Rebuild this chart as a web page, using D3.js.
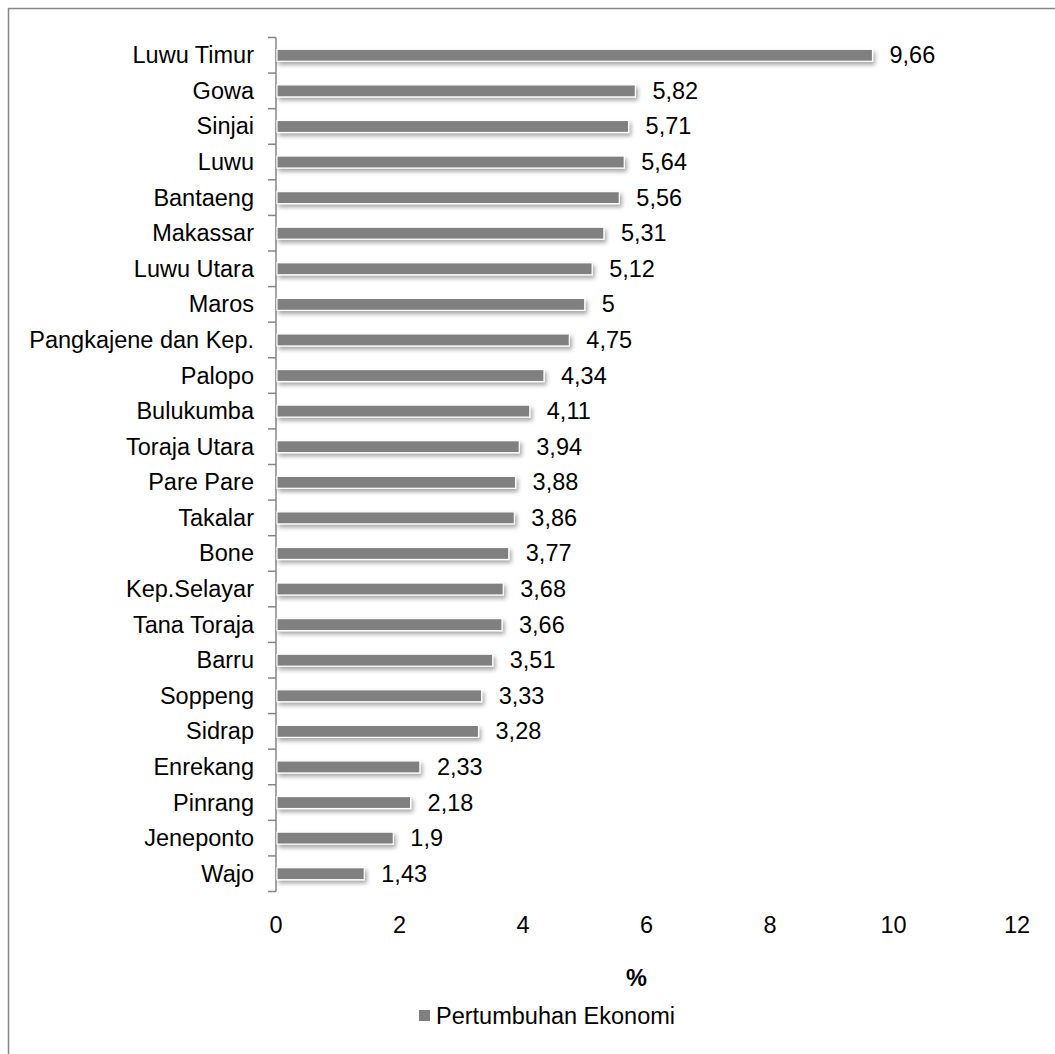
<!DOCTYPE html>
<html>
<head>
<meta charset="utf-8">
<script src="https://cdn.jsdelivr.net/npm/d3@7"></script>
<style>
  html, body { margin: 0; padding: 0; background: #fff; }
  svg { display: block; }
  text { font-family: "Liberation Sans", Arial, sans-serif; fill: #000; }
</style>
</head>
<body>
<svg id="chart" width="1055" height="1054"></svg>
<script>
// Regional economic growth (%), top to bottom
const regions = ["Luwu Timur", "Gowa", "Sinjai", "Luwu", "Bantaeng", "Makassar", "Luwu Utara",
  "Maros", "Pangkajene dan Kep.", "Palopo", "Bulukumba", "Toraja Utara", "Pare Pare", "Takalar",
  "Bone", "Kep.Selayar", "Tana Toraja", "Barru", "Soppeng", "Sidrap", "Enrekang", "Pinrang",
  "Jeneponto", "Wajo"];
const growth = [9.66, 5.82, 5.71, 5.64, 5.56, 5.31, 5.12, 5, 4.75, 4.34, 4.11, 3.94, 3.88, 3.86,
  3.77, 3.68, 3.66, 3.51, 3.33, 3.28, 2.33, 2.18, 1.9, 1.43];
const xTicks = [0, 2, 4, 6, 8, 10, 12];
const seriesName = "Pertumbuhan Ekonomi";
const axisTitle = "%";

const svg = d3.select("#chart");
const barColor = "#808080";
const lineColor = "#868686";
const fontSize = 23.5;

// outer frame (top and left edges)
svg.append("line").attr("x1", 8).attr("x2", 1055).attr("y1", 8.5).attr("y2", 8.5)
  .attr("stroke", lineColor).attr("stroke-width", 1.5);
svg.append("line").attr("x1", 8.5).attr("x2", 8.5).attr("y1", 8).attr("y2", 1054)
  .attr("stroke", lineColor).attr("stroke-width", 1.5);

const defs = svg.append("defs");
const f = defs.append("filter").attr("id", "shadow")
  .attr("x", "-10%").attr("y", "-50%").attr("width", "130%").attr("height", "250%");
f.append("feDropShadow").attr("dx", 2).attr("dy", 3).attr("stdDeviation", 2)
  .attr("flood-color", "#000").attr("flood-opacity", 0.35);

const x = d3.scaleLinear().domain([0, 12]).range([276, 1017]);
const y = d3.scaleBand().domain(regions).range([37.5, 891.5])
  .paddingInner(0.663).paddingOuter(0.3315);

// category axis with ticks on band boundaries
const axisG = svg.append("g");
axisG.append("line").attr("x1", 276).attr("x2", 276)
  .attr("y1", y.range()[0]).attr("y2", y.range()[1])
  .attr("stroke", lineColor).attr("stroke-width", 1.5);
const bounds = d3.range(regions.length + 1).map(i => y.range()[0] + i * y.step());
axisG.selectAll("line.tick").data(bounds).join("line")
  .attr("class", "tick")
  .attr("x1", 268).attr("x2", 276)
  .attr("y1", d => d).attr("y2", d => d)
  .attr("stroke", lineColor).attr("stroke-width", 1.5);

axisG.selectAll("text.cat").data(regions).join("text")
  .attr("class", "cat")
  .attr("x", 254)
  .attr("y", d => y(d) + y.bandwidth() / 2)
  .attr("text-anchor", "end")
  .attr("dominant-baseline", "central")
  .attr("font-size", fontSize)
  .text(d => d);

// bars
const data = regions.map((r, i) => ({ region: r, value: growth[i] }));
svg.append("g").selectAll("rect").data(data).join("rect")
  .attr("x", x(0) + 1)
  .attr("y", d => y(d.region))
  .attr("width", d => x(d.value) - x(0) - 1)
  .attr("height", y.bandwidth())
  .attr("fill", barColor)
  .attr("stroke", "#fff")
  .attr("stroke-width", 1.2)
  .attr("filter", "url(#shadow)");

// value labels
svg.append("g").selectAll("text").data(data).join("text")
  .attr("x", d => x(d.value) + 17)
  .attr("y", d => y(d.region) + y.bandwidth() / 2)
  .attr("dominant-baseline", "central")
  .attr("font-size", fontSize)
  .text(d => String(d.value).replace(".", ","));

// value axis tick labels (no axis line)
svg.append("g").selectAll("text").data(xTicks).join("text")
  .attr("x", d => x(d))
  .attr("y", 925)
  .attr("text-anchor", "middle")
  .attr("dominant-baseline", "central")
  .attr("font-size", fontSize)
  .text(d => d);

// axis title
svg.append("text")
  .attr("x", 636.5).attr("y", 978)
  .attr("text-anchor", "middle")
  .attr("dominant-baseline", "central")
  .attr("font-size", fontSize)
  .attr("font-weight", "bold")
  .text(axisTitle);

// legend
const lg = svg.append("g");
lg.append("rect").attr("x", 419).attr("y", 1010).attr("width", 11).attr("height", 11)
  .attr("fill", barColor);
lg.append("text").attr("x", 436).attr("y", 1015.5)
  .attr("dominant-baseline", "central")
  .attr("font-size", fontSize)
  .text(seriesName);
</script>
</body>
</html>
